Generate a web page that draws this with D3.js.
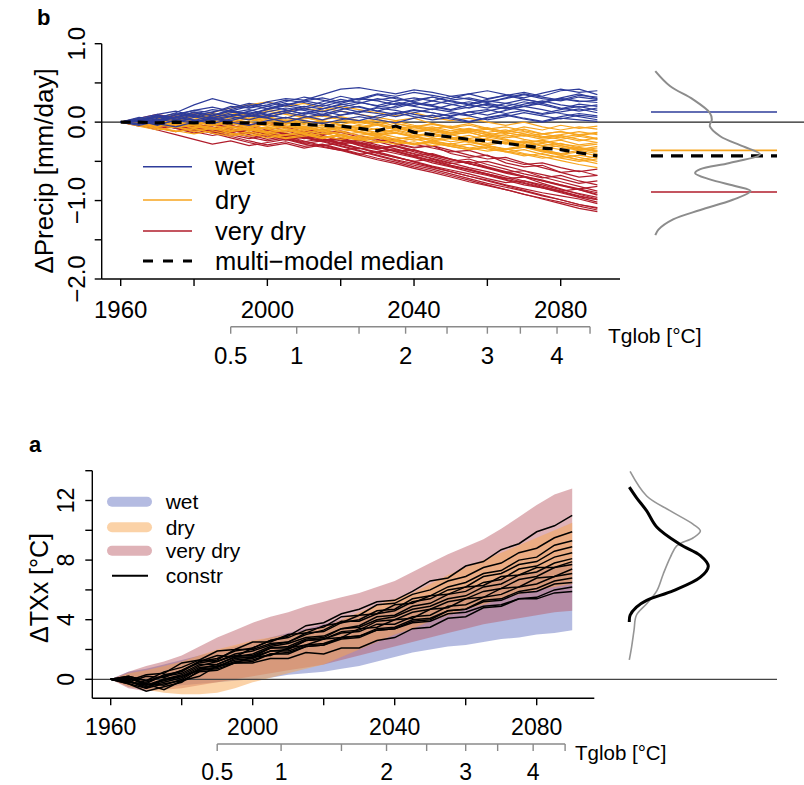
<!DOCTYPE html>
<html>
<head>
<meta charset="utf-8">
<script src="https://cdn.jsdelivr.net/npm/d3@7"></script>
<style>
  body { margin: 0; background: #fff; }
  svg text { font-family: "Liberation Sans", Arial, sans-serif; fill: #000; }
</style>
</head>
<body>
<div id="chart"></div>
<script>
// Data: model runs sampled every 5 years

var years = [1960, 1965, 1970, 1975, 1980, 1985, 1990, 1995, 2000, 2005, 2010, 2015, 2020, 2025,
             2030, 2035, 2040, 2045, 2050, 2055, 2060, 2065, 2070, 2075, 2080, 2085, 2090]

var groupNames = ['wet', 'dry', 'very dry']
var lineColors = ['#2e3c9a', '#f7a51e', '#b01c2b']
var bandColors = ['rgba(105,120,195,0.5)', 'rgba(248,165,80,0.5)', 'rgba(185,85,95,0.45)']

// panel b: delta precip [mm/day]
var wetRuns = [
  [0, .04, .02, .10, .15, .12, .20, .18, .26, .30, .28, .35, .42, .44, .40, .36, .41, .38, .33, .36, .30, .34, .38, .33, .40, .42, .35],
  [0, -.03, .05, .12, .22, .30, .24, .18, .22, .28, .25, .20, .26, .30, .28, .32, .25, .22, .28, .31, .26, .30, .35, .30, .27, .32, .29],
  [0, .02, -.04, .03, .08, .05, .12, .16, .10, .14, .20, .17, .22, .26, .20, .18, .24, .20, .15, .19, .23, .17, .20, .24, .18, .14, .18],
  [0, .03, .08, .04, .00, .06, .10, .07, .13, .18, .15, .10, .16, .20, .14, .10, .15, .12, .08, .13, .16, .11, .15, .10, .13, .17, .12],
  [0, -.02, .02, .06, .10, .04, .08, .14, .20, .16, .10, .14, .09, .12, .18, .15, .10, .06, .11, .08, .03, .07, .12, .08, .04, .09, .06],
  [0, .03, -.02, -.06, .00, .05, .02, .08, .05, .00, .06, .10, .05, .02, .08, .12, .07, .03, .06, .01, .05, .09, .04, .00, .05, .03, .01],
  [0, .05, .10, .14, .08, .13, .18, .24, .20, .26, .32, .28, .24, .30, .27, .22, .28, .32, .26, .22, .27, .24, .20, .26, .30, .27, .25],
  [0, .02, .07, .03, .10, .16, .13, .10, .17, .22, .27, .31, .26, .30, .36, .33, .38, .34, .30, .36, .40, .35, .31, .37, .42, .38, .40],
  [0, -.04, .01, .06, .03, -.02, .04, .09, .06, .12, .08, .03, .09, .14, .11, .07, .12, .17, .13, .09, .14, .19, .15, .11, .16, .20, .15],
  [0, .04, .00, .07, .12, .09, .15, .11, .06, .12, .17, .22, .18, .13, .19, .24, .20, .16, .22, .26, .21, .17, .23, .27, .22, .19, .22],
  [0, .01, -.03, .02, -.01, .04, .00, -.04, .02, .06, .02, -.02, .03, .07, .03, -.01, .05, .09, .04, .00, .06, .10, .05, .01, .07, .11, .08],
  [0, .06, .03, .09, .15, .19, .14, .20, .25, .21, .27, .23, .29, .25, .21, .27, .31, .27, .33, .29, .25, .31, .36, .32, .28, .34, .32],
  [0, .03, .09, .05, .13, .08, .16, .22, .17, .24, .19, .26, .33, .28, .35, .30, .26, .32, .27, .23, .29, .34, .29, .25, .31, .36, .30],
  [0, -.02, .04, .00, .06, .11, .07, .03, .09, .05, .12, .08, .14, .10, .05, .11, .16, .12, .07, .13, .09, .15, .20, .16, .11, .07, .03],
  [0, .04, .01, .06, .02, .08, .14, .10, .16, .21, .17, .13, .19, .24, .30, .26, .21, .27, .23, .18, .24, .20, .26, .22, .17, .23, .20],
  [0, .01, .06, .11, .07, .02, .07, .13, .09, .15, .11, .17, .23, .19, .14, .20, .25, .21, .16, .22, .18, .24, .29, .25, .30, .26, .28]
]
var dryRuns = [
  [0, .03, -.02, .04, .08, .12, .18, .22, .26, .20, .24, .18, .14, .10, .06, .02, .05, -.02, -.06, -.02, -.08, -.12, -.06, -.10, -.04, -.08, -.05],
  [0, -.02, -.06, -.02, -.08, -.04, -.10, -.06, -.12, -.08, -.14, -.10, -.16, -.20, -.16, -.22, -.18, -.24, -.28, -.24, -.30, -.34, -.30, -.36, -.40, -.36, -.40],
  [0, .02, .05, .01, -.03, .02, -.02, -.06, -.03, -.08, -.05, -.10, -.07, -.12, -.16, -.13, -.18, -.22, -.19, -.25, -.29, -.26, -.31, -.35, -.40, -.45, -.50],
  [0, -.04, -.08, -.12, -.08, -.14, -.18, -.14, -.20, -.16, -.12, -.18, -.22, -.18, -.24, -.28, -.25, -.30, -.27, -.33, -.37, -.34, -.40, -.44, -.49, -.54, -.58],
  [0, .04, .08, .04, .10, .06, .12, .08, .14, .10, .06, .10, .05, .01, .04, -.02, -.06, -.02, -.08, -.12, -.09, -.15, -.12, -.18, -.22, -.18, -.22],
  [0, -.01, .03, -.02, .02, -.03, .01, -.04, -.09, -.05, -.10, -.06, -.12, -.09, -.15, -.11, -.17, -.14, -.19, -.24, -.21, -.26, -.30, -.27, -.32, -.36, -.33],
  [0, .02, -.03, -.07, -.03, -.09, -.05, -.11, -.07, -.03, -.08, -.04, -.10, -.06, -.02, -.07, -.11, -.08, -.13, -.09, -.14, -.18, -.15, -.20, -.17, -.22, -.26],
  [0, -.03, .01, .05, .01, .06, .02, .07, .03, -.02, .02, -.03, -.07, -.04, -.10, -.07, -.13, -.10, -.16, -.13, -.19, -.23, -.27, -.24, -.30, -.34, -.38],
  [0, .01, -.02, .02, -.03, -.07, -.11, -.08, -.13, -.17, -.14, -.20, -.16, -.22, -.19, -.25, -.21, -.27, -.31, -.28, -.34, -.38, -.35, -.41, -.45, -.42, -.46],
  [0, .05, .02, .07, .12, .08, .14, .10, .16, .13, .18, .14, .20, .16, .12, .08, .12, .06, .02, .05, .00, -.04, .00, -.06, -.10, -.06, -.09],
  [0, -.02, -.05, -.01, -.05, -.09, -.06, -.10, -.14, -.11, -.07, -.12, -.16, -.13, -.18, -.22, -.19, -.24, -.21, -.26, -.30, -.35, -.32, -.38, -.42, -.48, -.53],
  [0, .03, .00, -.04, .00, .04, .00, -.05, -.01, -.06, -.03, -.08, -.04, -.09, -.13, -.10, -.15, -.19, -.16, -.21, -.17, -.22, -.26, -.23, -.28, -.31, -.28],
  [0, -.05, -.10, -.06, -.12, -.08, -.14, -.18, -.15, -.20, -.16, -.21, -.17, -.22, -.26, -.23, -.28, -.24, -.29, -.33, -.30, -.35, -.32, -.37, -.41, -.38, -.43],
  [0, .02, .06, .10, .06, .11, .07, .03, .07, .02, .06, .01, -.03, .01, -.04, -.08, -.05, -.10, -.14, -.11, -.16, -.20, -.17, -.22, -.19, -.24, -.20],
  [0, -.01, .02, -.03, -.07, -.04, -.08, -.04, -.09, -.13, -.10, -.15, -.12, -.17, -.14, -.19, -.23, -.20, -.25, -.22, -.27, -.24, -.29, -.33, -.30, -.35, -.31],
  [0, .03, -.01, .03, -.02, .02, -.03, .01, .05, .01, .06, .02, -.03, -.07, -.03, -.08, -.12, -.09, -.14, -.11, -.16, -.13, -.18, -.15, -.12, -.16, -.13],
  [0, -.03, -.07, -.11, -.15, -.11, -.16, -.12, -.17, -.21, -.18, -.14, -.19, -.23, -.20, -.25, -.29, -.26, -.31, -.35, -.32, -.37, -.41, -.46, -.43, -.48, -.44],
  [0, .01, .04, .00, .04, .08, .04, .09, .05, .00, .04, .08, .03, -.01, .03, -.02, -.06, -.03, -.07, -.04, -.09, -.06, -.11, -.15, -.12, -.17, -.14],
  [0, -.03, .02, -.02, .03, -.01, .04, .00, -.05, -.01, -.06, -.10, -.06, -.12, -.08, -.14, -.18, -.15, -.21, -.17, -.23, -.27, -.24, -.30, -.27, -.33, -.37],
  [0, .02, -.02, .03, .07, .03, .08, .04, -.01, .03, -.02, .02, -.04, -.08, -.04, -.10, -.06, -.12, -.16, -.13, -.19, -.16, -.22, -.26, -.23, -.29, -.26],
  [0, -.04, -.01, -.06, -.10, -.07, -.12, -.09, -.14, -.10, -.15, -.20, -.17, -.22, -.18, -.24, -.28, -.25, -.31, -.35, -.32, -.38, -.43, -.40, -.46, -.50, -.47],
  [0, .01, .05, .02, .06, .10, .06, .11, .07, .12, .08, .03, .07, .02, -.03, .01, -.04, -.08, -.05, -.11, -.07, -.13, -.09, -.15, -.19, -.16, -.21],
  [0, -.01, -.04, .00, -.04, .00, -.05, -.09, -.06, -.11, -.07, -.12, -.08, -.13, -.17, -.14, -.19, -.15, -.21, -.25, -.22, -.28, -.25, -.31, -.35, -.32, -.36],
  [0, .03, .00, .04, .00, -.04, .00, .05, .01, .06, .02, -.02, .02, -.03, .01, -.05, -.09, -.06, -.11, -.08, -.13, -.10, -.15, -.19, -.16, -.12, -.16]
]
var veryDryRuns = [
  [0, .05, .10, .05, .12, .07, .02, -.03, -.01, -.08, -.12, -.09, -.17, -.22, -.19, -.28, -.33, -.30, -.40, -.45, -.42, -.52, -.57, -.55, -.64, -.70, -.68],
  [0, -.04, -.10, -.16, -.22, -.28, -.24, -.30, -.26, -.22, -.28, -.32, -.36, -.33, -.40, -.45, -.50, -.47, -.55, -.61, -.66, -.72, -.70, -.78, -.85, -.92, -.98],
  [0, .02, -.03, -.08, -.05, -.11, -.16, -.13, -.19, -.15, -.20, -.25, -.22, -.30, -.35, -.40, -.45, -.52, -.57, -.63, -.68, -.74, -.80, -.84, -.90, -.96, -1.02],
  [0, -.02, .03, -.02, -.07, -.12, -.18, -.24, -.29, -.25, -.31, -.28, -.34, -.40, -.46, -.51, -.57, -.62, -.68, -.74, -.80, -.86, -.92, -.98, -1.04, -1.10, -1.14],
  [0, .03, -.02, -.06, -.02, -.07, -.11, -.08, -.13, -.17, -.13, -.18, -.22, -.27, -.32, -.37, -.35, -.42, -.48, -.53, -.58, -.64, -.62, -.70, -.76, -.82, -.88],
  [0, -.03, -.08, -.05, -.11, -.07, -.13, -.18, -.15, -.21, -.27, -.24, -.30, -.36, -.42, -.48, -.53, -.58, -.63, -.69, -.74, -.80, -.85, -.90, -.94, -.98, -1.04],
  [0, .04, .00, .05, .01, -.04, .00, -.05, -.10, -.06, -.12, -.16, -.13, -.19, -.24, -.22, -.28, -.33, -.38, -.36, -.43, -.48, -.54, -.52, -.58, -.63, -.60],
  [0, -.05, -.02, -.08, -.14, -.10, -.16, -.21, -.17, -.23, -.19, -.25, -.31, -.37, -.43, -.49, -.55, -.60, -.66, -.72, -.78, -.83, -.88, -.94, -.99, -1.05, -1.10],
  [0, .01, .05, .01, -.04, -.09, -.05, -.10, -.15, -.11, -.17, -.22, -.28, -.25, -.31, -.37, -.43, -.40, -.47, -.53, -.59, -.65, -.70, -.75, -.80, -.86, -.92],
  [0, -.01, -.06, -.02, -.07, -.03, -.09, -.14, -.10, -.16, -.21, -.18, -.24, -.29, -.34, -.31, -.38, -.44, -.50, -.47, -.54, -.60, -.66, -.71, -.68, -.75, -.80],
  [0, .02, .07, .03, -.02, -.07, -.13, -.10, -.16, -.22, -.18, -.24, -.20, -.26, -.32, -.38, -.44, -.50, -.56, -.61, -.67, -.73, -.78, -.84, -.89, -.95, -.99],
  [0, -.03, .01, -.04, -.09, -.14, -.20, -.26, -.31, -.27, -.33, -.29, -.35, -.41, -.38, -.44, -.51, -.57, -.63, -.69, -.75, -.81, -.87, -.93, -.99, -1.05, -1.09],
  [0, .03, -.01, .04, .09, .05, .00, -.04, .00, -.05, -.09, -.14, -.11, -.17, -.22, -.27, -.32, -.30, -.36, -.42, -.47, -.45, -.52, -.58, -.64, -.62, -.68],
  [0, -.02, -.07, -.12, -.08, -.14, -.10, -.16, -.22, -.18, -.24, -.30, -.27, -.33, -.39, -.45, -.50, -.56, -.61, -.66, -.72, -.77, -.75, -.82, -.88, -.85, -.90],
  [0, -.04, .00, -.05, -.10, -.06, -.12, -.08, -.14, -.19, -.15, -.21, -.26, -.23, -.29, -.34, -.40, -.46, -.52, -.58, -.63, -.69, -.75, -.80, -.86, -.91, -.96],
  [0, .02, -.03, .02, -.03, -.08, -.04, -.10, -.15, -.20, -.25, -.21, -.27, -.33, -.38, -.35, -.41, -.47, -.53, -.50, -.57, -.63, -.69, -.74, -.80, -.85, -.82],
  [0, -.01, .04, .08, .03, -.02, -.07, -.03, -.09, -.14, -.20, -.17, -.23, -.28, -.25, -.31, -.36, -.42, -.47, -.53, -.58, -.64, -.69, -.75, -.81, -.86, -.93],
  [0, .03, -.02, -.07, -.12, -.17, -.13, -.19, -.24, -.20, -.26, -.31, -.36, -.42, -.48, -.53, -.59, -.64, -.70, -.76, -.81, -.86, -.92, -.97, -1.02, -1.07, -1.12],
  [0, -.02, -.06, -.02, -.07, -.12, -.08, -.14, -.10, -.15, -.19, -.24, -.21, -.27, -.33, -.30, -.36, -.41, -.47, -.52, -.50, -.56, -.62, -.67, -.72, -.78, -.75],
  [0, .01, .06, .02, -.03, .01, -.04, -.09, -.14, -.19, -.16, -.22, -.28, -.34, -.31, -.37, -.43, -.49, -.55, -.60, -.66, -.71, -.77, -.83, -.88, -.94, -.99]
]
var mmMedian = [0, 0, -.01, .00, -.01, .00, -.01, -.01, -.02, -.03, -.03, -.04, -.05, -.08, -.11, -.05, -.13, -.16, -.19, -.22, -.24, -.27, -.30, -.33, -.35, -.39, -.43]

// end-of-century medians shown at the right of panel b
var groupEndMedian = [0.13, -0.36, -0.89]
var mmEndMedian = -0.43

// density of end values, panel b (relative units)
var densBVal = [0.65, 0.46, 0.29, 0.12, 0.035, -0.05, -0.18, -0.31, -0.41, -0.52, -0.60, -0.65, -0.73, -0.82, -0.88, -0.99, -1.12, -1.24, -1.37, -1.44]
var densB = [0, 0.14, 0.36, 0.52, 0.54, 0.52, 0.62, 0.84, 1.0, 0.71, 0.43, 0.38, 0.52, 0.78, 0.91, 0.74, 0.43, 0.17, 0.03, 0]

// panel a: delta TXx [°C], ranges per group
var bandLow = [
  [0, -.5, -.7, -.6, -.4, -.3, -.2, -.1, 0, .1, .3, .4, .5, .7, .9, 1.2, 1.5, 1.8, 2.0, 2.2, 2.3, 2.5, 2.7, 2.8, 3.0, 3.1, 3.3],
  [0, -.5, -.7, -.9, -1.0, -1.0, -.9, -.6, -.2, .1, .4, .7, 1.0, 1.5, 2.0, 2.5, 3.0, 3.4, 3.9, 4.3, 4.7, 5.0, 5.4, 5.7, 6.0, 6.2, 6.4],
  [0, -.6, -.8, -.7, -.6, -.4, -.2, 0, .2, .4, .6, .8, 1.0, 1.3, 1.6, 1.9, 2.2, 2.5, 2.8, 3.1, 3.4, 3.7, 3.9, 4.1, 4.3, 4.5, 4.6]
]
var bandHigh = [
  [0, .5, .7, 1.0, 1.3, 1.6, 1.9, 2.2, 2.5, 2.8, 3.1, 3.4, 3.7, 4.0, 4.3, 4.6, 4.9, 5.2, 5.5, 5.8, 6.1, 6.4, 6.7, 7.0, 7.3, 7.6, 7.9],
  [0, .4, .6, .9, 1.2, 1.6, 2.0, 2.3, 2.6, 2.8, 3.0, 3.3, 3.5, 4.0, 4.5, 5.0, 5.4, 5.8, 6.4, 7.0, 7.5, 8.0, 8.5, 9.0, 9.5, 10.0, 10.5],
  [0, .5, .9, 1.2, 1.6, 2.2, 2.8, 3.3, 3.8, 4.2, 4.5, 4.9, 5.2, 5.5, 5.8, 6.2, 6.6, 7.2, 7.8, 8.4, 8.9, 9.4, 10.1, 10.9, 11.7, 12.4, 12.8]
]
var constrRuns = [
  [0, -.2, .2, .1, .6, 1.2, 1.6, 1.5, 2.1, 2.6, 2.9, 3.6, 3.8, 4.4, 4.7, 5.2, 5.3, 5.9, 6.6, 6.8, 7.6, 7.9, 8.7, 9.1, 9.9, 10.3, 11.0],
  [0, .1, -.3, .3, .5, 1.2, 1.4, 1.9, 2.1, 2.6, 2.8, 3.3, 3.5, 4.2, 4.3, 5.0, 5.1, 5.7, 6.0, 6.6, 6.9, 7.5, 7.8, 8.5, 8.8, 9.5, 9.9],
  [0, -.3, -.6, 0, .3, .9, 1.2, 1.7, 1.9, 2.3, 2.5, 3.1, 3.2, 3.8, 4.0, 4.6, 4.7, 5.4, 5.6, 6.2, 6.5, 7.1, 7.3, 8.0, 8.2, 9.0, 9.3],
  [0, .2, -.1, .2, .6, 1.1, 1.3, 2.0, 2.0, 2.4, 2.5, 3.0, 3.3, 3.9, 3.9, 4.4, 4.6, 5.2, 5.4, 6.0, 6.2, 6.9, 7.1, 7.7, 7.9, 8.6, 8.9],
  [0, -.1, -.5, -.2, .1, .7, 1.0, 1.5, 1.7, 2.2, 2.4, 2.8, 2.9, 3.4, 3.6, 4.2, 4.3, 4.9, 5.1, 5.7, 5.9, 6.5, 6.7, 7.4, 7.6, 8.2, 8.5],
  [0, -.3, -.8, -.5, -.2, .6, .8, 1.4, 1.5, 2.1, 2.2, 2.7, 2.8, 3.4, 3.5, 4.0, 4.2, 4.7, 4.9, 5.4, 5.6, 6.2, 6.4, 7.0, 7.2, 7.8, 8.1],
  [0, .1, -.4, -.1, .2, .8, .9, 1.3, 1.4, 1.9, 2.0, 2.6, 2.7, 3.2, 3.3, 3.9, 4.0, 4.5, 4.7, 5.2, 5.4, 5.9, 6.1, 6.7, 6.9, 7.5, 7.7],
  [0, -.2, -.3, -.7, -.1, .2, .9, 1.1, 1.5, 1.6, 2.1, 2.3, 2.7, 2.8, 3.4, 3.5, 4.0, 4.1, 4.7, 4.8, 5.4, 5.5, 6.1, 6.2, 6.8, 6.9, 7.4],
  [0, .2, -.1, .5, .8, 1.3, 1.2, 1.6, 1.6, 2.1, 2.1, 2.6, 2.7, 3.1, 3.2, 3.7, 3.7, 4.2, 4.3, 4.9, 5.0, 5.5, 5.7, 6.2, 6.4, 6.9, 7.1],
  [0, -.1, -.6, -.3, -.1, .5, .6, 1.1, 1.2, 1.7, 1.7, 2.2, 2.3, 2.8, 2.9, 3.3, 3.4, 3.9, 4.0, 4.6, 4.7, 5.3, 5.4, 5.9, 6.1, 6.6, 6.8],
  [0, 0, -.2, .2, .4, 1.0, 1.0, 1.5, 1.5, 1.9, 1.9, 2.3, 2.4, 2.8, 2.9, 3.4, 3.5, 4.0, 4.1, 4.6, 4.7, 5.2, 5.3, 5.8, 5.9, 6.4, 6.5],
  [0, -.2, -.4, 0, .2, .6, .7, 1.1, 1.1, 1.4, 1.4, 1.8, 1.7, 2.1, 2.1, 2.6, 2.8, 3.4, 3.5, 4.1, 4.2, 4.8, 4.9, 5.4, 5.5, 6.0, 6.2],
  [0, .1, -.3, -.4, 0, .7, .8, 1.2, 1.3, 1.7, 1.8, 2.2, 2.3, 2.7, 2.8, 3.3, 3.4, 3.8, 3.9, 4.4, 4.5, 4.9, 5.0, 5.4, 5.4, 5.8, 5.9],
  [0, -.1, .3, .4, 1.1, 1.3, 1.9, 2.0, 2.5, 2.5, 3.0, 3.1, 3.6, 3.8, 4.3, 4.4, 5.0, 5.1, 5.6, 5.7, 6.2, 6.3, 6.9, 7.0, 7.5, 7.5, 7.9]
]

// densities at the right of panel a (relative units)
var densAllVal = [13.95, 12.3, 11.3, 10.4, 9.95, 9.5, 8.95, 8.2, 7.07, 5.95, 5.07, 4.3, 3.3, 2.2, 1.3]
var densAll = [0.01, 0.22, 0.52, 0.81, 0.9, 0.81, 0.6, 0.52, 0.43, 0.35, 0.22, 0.09, 0.06, 0.03, 0]
var densConstrVal = [12.9, 12.2, 11.3, 10.2, 9.06, 8.3, 7.6, 6.85, 5.95, 5.3, 4.85, 4.3, 3.85]
var densConstr = [0, 0.09, 0.22, 0.35, 0.64, 0.9, 1.0, 0.9, 0.56, 0.22, 0.09, 0.01, 0]

// axis ticks
var yearTicks = [1960, 1980, 2000, 2020, 2040, 2060, 2080]
var yearLabels = [1960, 2000, 2040, 2080]
var tglobVals = [0.5, 1, 1.5, 2, 2.5, 3, 3.5, 4, 4.5]
var tglobYears = [1990, 2008, 2025, 2037.7, 2049, 2060, 2069, 2079, 2088]
var tglobLabels = [0.5, 1, 2, 3, 4]
var precipTicks = [1, 0.5, 0, -0.5, -1, -1.5, -2]
var precipLabels = [1, 0, -1, -2]
var txxTicks = [0, 2, 4, 6, 8, 10, 12, 14]
var txxLabels = [0, 4, 8, 12]


var svg = d3.select('#chart').append('svg')
  .attr('width', 804)
  .attr('height', 785)

// draws bottom year axis, the Tglob axis under it and the left axis
function drawAxes(g, x, y, o) {
  // L shaped frame
  g.append('line').attr('x1', o.left).attr('x2', o.right)
    .attr('y1', o.bottom).attr('y2', o.bottom)
    .attr('stroke', '#000').attr('stroke-width', 1.4)
  g.append('line').attr('x1', o.left).attr('x2', o.left)
    .attr('y1', y(d3.max(o.yTicks))).attr('y2', o.bottom)
    .attr('stroke', '#000').attr('stroke-width', 1.4)

  g.selectAll('.xt').data(yearTicks).enter().append('line')
    .attr('x1', function(d){ return x(d) }).attr('x2', function(d){ return x(d) })
    .attr('y1', o.bottom).attr('y2', o.bottom + 7)
    .attr('stroke', '#000').attr('stroke-width', 1.4)
  g.selectAll('.xl').data(yearLabels).enter().append('text')
    .attr('x', function(d){ return x(d) }).attr('y', o.xLabelY)
    .attr('text-anchor', 'middle').style('font-size', o.fs + 'px')
    .text(function(d){ return d })

  g.selectAll('.yt').data(o.yTicks).enter().append('line')
    .attr('x1', o.left - 7).attr('x2', o.left)
    .attr('y1', function(d){ return y(d) }).attr('y2', function(d){ return y(d) })
    .attr('stroke', '#000').attr('stroke-width', 1.4)
  g.selectAll('.yl').data(o.yLabels).enter().append('text')
    .attr('transform', function(d){ return 'translate(' + o.yLabelX + ',' + y(d) + ') rotate(-90)' })
    .attr('text-anchor', 'middle').style('font-size', o.fs + 'px')
    .text(o.yFormat)

  g.append('text')
    .attr('transform', 'translate(' + o.titleX + ',' + o.titleY + ') rotate(-90)')
    .attr('text-anchor', 'middle').style('font-size', o.titleFs + 'px')
    .text(o.title)

  // global temperature axis
  var t = d3.scaleLinear().domain(tglobVals).range(tglobYears.map(x))
  var ty = o.tglobY
  g.append('line').attr('x1', t(tglobVals[0])).attr('x2', t(tglobVals[tglobVals.length - 1]))
    .attr('y1', ty).attr('y2', ty).attr('stroke', '#8a8a8a').attr('stroke-width', 1.4)
  g.selectAll('.tt').data(tglobVals).enter().append('line')
    .attr('x1', function(d){ return t(d) }).attr('x2', function(d){ return t(d) })
    .attr('y1', ty).attr('y2', ty + 7)
    .attr('stroke', '#8a8a8a').attr('stroke-width', 1.4)
  g.selectAll('.tl').data(tglobLabels).enter().append('text')
    .attr('x', function(d){ return t(d) }).attr('y', o.tglobLabelY)
    .attr('text-anchor', 'middle').style('font-size', o.fs + 'px')
    .text(function(d){ return d })
  g.append('text').attr('x', o.tglobTitleX).attr('y', o.tglobTitleY)
    .style('font-size', o.tfs + 'px').text('Tglob [°C]')
}

// ---------- panel b ----------
var xb = d3.scaleLinear().domain([1960, 2080]).range([120.7, 560.7])
var yb = d3.scaleLinear().domain([1, -2]).range([43.7, 279])
var gb = svg.append('g')

gb.append('line').attr('x1', 101.7).attr('x2', 804)
  .attr('y1', yb(0)).attr('y2', yb(0))
  .attr('stroke', '#222').attr('stroke-width', 1.2)

var lineB = d3.line()
  .x(function(d, i){ return xb(years[i]) })
  .y(function(d){ return yb(d) })

var runsB = [wetRuns, dryRuns, veryDryRuns]
var order = [2, 1, 0]
order.forEach(function(k){
  gb.selectAll('.run' + k).data(runsB[k]).enter().append('path')
    .attr('d', lineB)
    .attr('fill', 'none')
    .attr('stroke', lineColors[k])
    .attr('stroke-width', 1.2)
})
gb.append('path').attr('d', lineB(mmMedian))
  .attr('fill', 'none').attr('stroke', '#000')
  .attr('stroke-width', 3.2).attr('stroke-dasharray', '10,7')

// medians and density on the right
gb.selectAll('.med').data(groupEndMedian).enter().append('line')
  .attr('x1', 651).attr('x2', 777)
  .attr('y1', function(d){ return yb(d) }).attr('y2', function(d){ return yb(d) })
  .attr('stroke', function(d, i){ return lineColors[i] }).attr('stroke-width', 1.6)
gb.append('line').attr('x1', 651).attr('x2', 777)
  .attr('y1', yb(mmEndMedian)).attr('y2', yb(mmEndMedian))
  .attr('stroke', '#000').attr('stroke-width', 3.2).attr('stroke-dasharray', '12,8')

var dB = d3.scaleLinear().domain([0, 1]).range([655.3, 760])
gb.append('path')
  .attr('d', d3.line().curve(d3.curveCatmullRom)
    .x(function(d, i){ return dB(densB[i]) })
    .y(function(d){ return yb(d) })(densBVal))
  .attr('fill', 'none').attr('stroke', '#8c8c8c').attr('stroke-width', 2)

// legend b
var legB = gb.append('g')
var legBRows = [166.7, 200, 231, 261]
groupNames.forEach(function(n, i){
  legB.append('line').attr('x1', 143).attr('x2', 192)
    .attr('y1', legBRows[i]).attr('y2', legBRows[i])
    .attr('stroke', lineColors[i]).attr('stroke-width', 1.4)
  legB.append('text').attr('x', 215).attr('y', legBRows[i] + 8.5)
    .style('font-size', '25.5px').text(n)
})
legB.append('line').attr('x1', 143).attr('x2', 192)
  .attr('y1', legBRows[3]).attr('y2', legBRows[3])
  .attr('stroke', '#000').attr('stroke-width', 3).attr('stroke-dasharray', '10,10')
legB.append('text').attr('x', 215).attr('y', legBRows[3] + 8.5)
  .style('font-size', '25.5px').text('multi\u2212model median')

drawAxes(gb, xb, yb, {
  left: 101.7, right: 620, bottom: 279,
  yTicks: precipTicks, yLabels: precipLabels, yFormat: d3.format('.1f'),
  yLabelX: 85, xLabelY: 317.5, fs: 24,
  title: '\u0394Precip [mm/day]', titleX: 53, titleY: 171, titleFs: 26,
  tglobY: 326.7, tglobLabelY: 364, tglobTitleX: 608, tglobTitleY: 343, tfs: 21
})
gb.append('text').attr('x', 37).attr('y', 25)
  .style('font-size', '22px').style('font-weight', 'bold').text('b')

// ---------- panel a ----------
var xa = d3.scaleLinear().domain([1960, 2080]).range([110.7, 536.7])
var ya = d3.scaleLinear().domain([0, 14]).range([679.3, 470.7])
var ga = svg.append('g')

var areaA = d3.area()
  .x(function(d, i){ return xa(years[i]) })
  .y0(function(d){ return ya(d[0]) })
  .y1(function(d){ return ya(d[1]) })

var bandOrder = [0, 2, 1]
bandOrder.forEach(function(k){
  var pts = bandLow[k].map(function(v, i){ return [v, bandHigh[k][i]] })
  ga.append('path').attr('d', areaA(pts))
    .attr('fill', bandColors[k]).attr('stroke', 'none')
})

ga.append('line').attr('x1', 92.3).attr('x2', 777)
  .attr('y1', ya(0)).attr('y2', ya(0))
  .attr('stroke', '#444').attr('stroke-width', 1.2)

var lineA = d3.line()
  .x(function(d, i){ return xa(years[i]) })
  .y(function(d){ return ya(d) })
ga.selectAll('.constr').data(constrRuns).enter().append('path')
  .attr('d', lineA)
  .attr('fill', 'none').attr('stroke', '#000').attr('stroke-width', 1.5)

var dA = d3.scaleLinear().domain([0, 1]).range([629.3, 708.3])
ga.append('path')
  .attr('d', d3.line().curve(d3.curveCatmullRom)
    .x(function(d, i){ return dA(densAll[i]) })
    .y(function(d){ return ya(d) })(densAllVal))
  .attr('fill', 'none').attr('stroke', '#959595').attr('stroke-width', 1.6)
ga.append('path')
  .attr('d', d3.line().curve(d3.curveCatmullRom)
    .x(function(d, i){ return dA(densConstr[i]) })
    .y(function(d){ return ya(d) })(densConstrVal))
  .attr('fill', 'none').attr('stroke', '#000').attr('stroke-width', 3)

// legend a
var legA = ga.append('g')
var legARows = [501.7, 527.3, 550.7, 575.7]
groupNames.forEach(function(n, i){
  legA.append('line').attr('x1', 112).attr('x2', 147)
    .attr('y1', legARows[i]).attr('y2', legARows[i])
    .attr('stroke', bandColors[i]).attr('stroke-width', 10)
    .attr('stroke-linecap', 'round')
  legA.append('text').attr('x', 165.7).attr('y', legARows[i] + 7.5)
    .style('font-size', '21px').text(n)
})
legA.append('line').attr('x1', 112).attr('x2', 148)
  .attr('y1', legARows[3]).attr('y2', legARows[3])
  .attr('stroke', '#000').attr('stroke-width', 2)
legA.append('text').attr('x', 165.7).attr('y', legARows[3] + 7.5)
  .style('font-size', '21px').text('constr')

drawAxes(ga, xa, ya, {
  left: 92.3, right: 594.3, bottom: 698.3,
  yTicks: txxTicks, yLabels: txxLabels, yFormat: function(d){ return d },
  yLabelX: 73.5, xLabelY: 735, fs: 23,
  title: '\u0394TXx [°C]', titleX: 48, titleY: 588, titleFs: 25,
  tglobY: 744, tglobLabelY: 780, tglobTitleX: 575, tglobTitleY: 760, tfs: 20.5
})
ga.append('text').attr('x', 29).attr('y', 452)
  .style('font-size', '22px').style('font-weight', 'bold').text('a')
</script>
</body>
</html>
